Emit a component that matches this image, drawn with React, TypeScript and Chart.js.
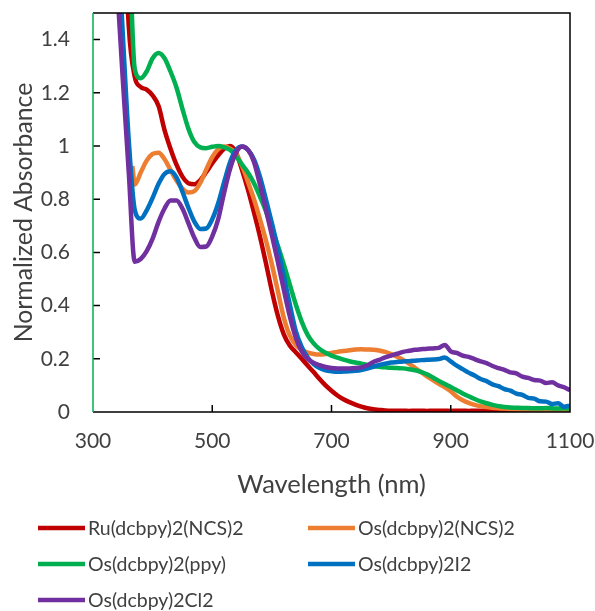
import React, { useEffect, useRef } from "react";
import { Chart, registerables } from "chart.js";

Chart.register(...registerables);

// ---------- data ----------
const wavelengths = [
  340, 350, 360, 370, 380, 390, 400, 410, 420, 430, 440, 450, 460, 470, 480, 490,
  500, 510, 520, 530, 540, 550, 560, 570, 580, 590, 600, 610, 620, 630, 640, 650,
  660, 670, 680, 690, 700, 710, 720, 730, 740, 750, 760, 770, 780, 790, 800, 810,
  820, 830, 840, 850, 860, 870, 880, 890, 900, 910, 920, 930, 940, 950, 960, 970,
  980, 990, 1000, 1010, 1020, 1030, 1040, 1050, 1060, 1070, 1080, 1090, 1100,
];

const seriesLabels = [
  "Ru(dcbpy)2(NCS)2",
  "Os(dcbpy)2(NCS)2",
  "Os(dcbpy)2(ppy)",
  "Os(dcbpy)2I2",
  "Os(dcbpy)2Cl2",
];

const seriesColors = ["#C00000", "#ED7D31", "#00B050", "#0070C0", "#7030A0"];

const ruNcs = [
  3.0, 2.0, 1.45, 1.26, 1.222, 1.212, 1.19, 1.15, 1.06, 0.99, 0.93, 0.885, 0.86, 0.856, 0.872, 0.902,
  0.935, 0.965, 0.99, 1.0, 0.975, 0.91, 0.835, 0.75, 0.66, 0.56, 0.455, 0.362, 0.292, 0.25, 0.225, 0.2,
  0.175, 0.15, 0.124, 0.1, 0.08, 0.062, 0.048, 0.037, 0.028, 0.02, 0.014, 0.01, 0.008, 0.006, 0.005, 0.005,
  0.005, 0.004, 0.005, 0.005, 0.004, 0.005, 0.005, 0.005, 0.004, 0.005, 0.005, 0.004, 0.005, 0.005, 0.004, 0.005,
  0.005, 0.004, 0.005, 0.005, 0.004, 0.005, 0.005, 0.004, 0.005, 0.005, 0.004, 0.005, 0.005,
];

const osNcsOnset = { wavelength: 366, value: 0.925 };
const osNcs = [
  null, null, null, 0.855, 0.9, 0.945, 0.97, 0.975, 0.95, 0.91, 0.87, 0.84, 0.825, 0.83, 0.862, 0.912,
  0.958, 0.988, 0.998, 0.99, 0.97, 0.925, 0.865, 0.8, 0.725, 0.645, 0.555, 0.455, 0.355, 0.288, 0.252, 0.234,
  0.223, 0.218, 0.216, 0.218, 0.222, 0.226, 0.229, 0.232, 0.235, 0.236, 0.235, 0.234, 0.231, 0.226, 0.218, 0.208,
  0.196, 0.182, 0.166, 0.15, 0.134, 0.12, 0.106, 0.093, 0.078, 0.058, 0.044, 0.034, 0.027, 0.022, 0.019, 0.016,
  0.014, 0.013, 0.011, 0.01, 0.009, 0.009, 0.008, 0.008, 0.007, 0.007, 0.006, 0.006, 0.006,
];

const osPpy = [
  3.5, 2.6, 1.85, 1.29, 1.255, 1.28, 1.33, 1.35, 1.33, 1.28, 1.22, 1.14, 1.065, 1.015, 0.995, 0.992,
  0.997, 1.0, 0.995, 0.985, 0.962, 0.93, 0.9, 0.86, 0.81, 0.755, 0.69, 0.625, 0.555, 0.48, 0.405, 0.34,
  0.29, 0.258, 0.237, 0.223, 0.212, 0.204, 0.197, 0.191, 0.186, 0.182, 0.177, 0.173, 0.17, 0.168, 0.166, 0.165,
  0.164, 0.161, 0.157, 0.151, 0.142, 0.13, 0.117, 0.105, 0.094, 0.082, 0.07, 0.059, 0.049, 0.04, 0.033, 0.027,
  0.022, 0.019, 0.017, 0.016, 0.015, 0.015, 0.014, 0.014, 0.015, 0.014, 0.013, 0.014, 0.013,
];

const osI2 = [
  1.85, 1.42, 1.02, 0.76, 0.727, 0.758, 0.805, 0.858, 0.895, 0.905, 0.882, 0.828, 0.768, 0.716, 0.688, 0.69,
  0.725, 0.785, 0.865, 0.94, 0.985, 0.998, 0.985, 0.95, 0.885, 0.8, 0.71, 0.615, 0.51, 0.405, 0.305, 0.245,
  0.205, 0.18, 0.165, 0.157, 0.153, 0.151, 0.152, 0.153, 0.155, 0.158, 0.163, 0.17, 0.177, 0.182, 0.186, 0.188,
  0.19, 0.191, 0.193, 0.195, 0.196, 0.197, 0.199, 0.205, 0.19, 0.174, 0.161, 0.148, 0.137, 0.124, 0.116, 0.104,
  0.097, 0.086, 0.08, 0.069, 0.064, 0.053, 0.05, 0.04, 0.039, 0.03, 0.033, 0.02, 0.024,
];

const osCl2 = [
  1.62, 1.25, 0.9, 0.565, 0.575, 0.605, 0.652, 0.715, 0.765, 0.795, 0.795, 0.765, 0.71, 0.655, 0.62, 0.622,
  0.66, 0.725, 0.825, 0.915, 0.975, 0.998, 0.985, 0.94, 0.855, 0.76, 0.665, 0.565, 0.46, 0.36, 0.28, 0.228,
  0.2, 0.185, 0.176, 0.169, 0.165, 0.164, 0.164, 0.164, 0.165, 0.168, 0.176, 0.188, 0.196, 0.205, 0.212, 0.219,
  0.226, 0.23, 0.234, 0.236, 0.238, 0.239, 0.241, 0.252, 0.228, 0.222, 0.212, 0.207, 0.199, 0.19, 0.184, 0.173,
  0.165, 0.158, 0.149, 0.145, 0.133, 0.128, 0.12, 0.118, 0.109, 0.112, 0.1, 0.093, 0.082,
];

const xTickValues = [300, 500, 700, 900, 1100];
const yTickValues = [0, 0.2, 0.4, 0.6, 0.8, 1, 1.2, 1.4];

// ---------- styling ----------
const FONT = "Lato, 'Open Sans', sans-serif";
const TEXT = "#404040";

function toPoints(values: (number | null)[], onset?: { wavelength: number; value: number }) {
  const pts: { x: number; y: number }[] = [];
  if (onset) pts.push({ x: onset.wavelength, y: onset.value });
  wavelengths.forEach((w, i) => {
    const v = values[i];
    if (v !== null && v !== undefined) pts.push({ x: w, y: v });
  });
  return pts;
}

const frameAndTicks = {
  id: "frameAndTicks",
  afterDatasetsDraw(chart: any) {
    const { ctx, chartArea: a, scales } = chart;
    const x = scales.x;
    const y = scales.y;
    ctx.save();
    ctx.lineWidth = 1.5;
    ctx.lineCap = "butt";
    ctx.strokeStyle = "#000000";
    ctx.beginPath();
    ctx.moveTo(a.left, a.top);
    ctx.lineTo(a.right, a.top);
    ctx.lineTo(a.right, a.bottom);
    ctx.lineTo(a.left, a.bottom);
    ctx.stroke();
    ctx.beginPath();
    x.ticks.forEach((t: any) => {
      const px = x.getPixelForValue(t.value);
      if (px > a.left + 2 && px < a.right - 2) {
        ctx.moveTo(px, a.bottom);
        ctx.lineTo(px, a.bottom - 7);
      }
    });
    y.ticks.forEach((t: any) => {
      const py = y.getPixelForValue(t.value);
      if (py > a.top + 2 && py < a.bottom - 2) {
        ctx.moveTo(a.left, py);
        ctx.lineTo(a.left + 7, py);
      }
    });
    ctx.stroke();
    ctx.strokeStyle = "#00B050";
    ctx.beginPath();
    ctx.moveTo(a.left, a.top);
    ctx.lineTo(a.left, a.bottom);
    ctx.stroke();
    ctx.restore();
  },
};

const gridLegend = {
  id: "gridLegend",
  afterDraw(chart: any) {
    const { ctx } = chart;
    const cols = [38, 308];
    const rows = [528, 564, 600];
    ctx.save();
    ctx.font = `19.5px ${FONT}`;
    ctx.textBaseline = "middle";
    ctx.textAlign = "left";
    chart.data.datasets.forEach((ds: any, i: number) => {
      const cx = cols[i % 2];
      const cy = rows[Math.floor(i / 2)];
      ctx.strokeStyle = ds.borderColor;
      ctx.lineWidth = 4.5;
      ctx.beginPath();
      ctx.moveTo(cx, cy);
      ctx.lineTo(cx + 47, cy);
      ctx.stroke();
      ctx.fillStyle = TEXT;
      ctx.fillText(ds.label, cx + 50, cy + 1);
    });
    ctx.restore();
  },
};

export default function App() {
  const ref = useRef<HTMLCanvasElement | null>(null);

  useEffect(() => {
    if (!ref.current) return;
    const seriesValues = [ruNcs, osNcs, osPpy, osI2, osCl2];
    const datasets = seriesValues.map((vals, i) => ({
      label: seriesLabels[i],
      data: toPoints(vals as (number | null)[], i === 1 ? osNcsOnset : undefined),
      borderColor: seriesColors[i],
      backgroundColor: seriesColors[i],
      borderWidth: 4.5,
      pointRadius: 0,
      pointHoverRadius: 0,
      cubicInterpolationMode: "monotone" as const,
      fill: false,
      clip: 0,
      order: seriesValues.length - 1 - i,
    }));

    const chart = new Chart(ref.current, {
      type: "line",
      data: { datasets },
      plugins: [frameAndTicks, gridLegend],
      options: {
        animation: false,
        responsive: false,
        devicePixelRatio: 1,
        layout: { padding: { left: 0, top: 13, right: 25, bottom: 109 } },
        plugins: {
          legend: { display: false },
          tooltip: { enabled: false },
          title: { display: false },
        },
        scales: {
          x: {
            type: "linear",
            min: 300,
            max: 1100,
            afterBuildTicks: (s: any) => {
              s.ticks = xTickValues.map((v) => ({ value: v }));
            },
            afterFit: (s: any) => {
              s.height = 90;
              s.paddingLeft = 0;
              s.paddingRight = 0;
            },
            grid: { display: false, drawTicks: false },
            border: { display: false },
            ticks: {
              autoSkip: false,
              maxRotation: 0,
              padding: 17,
              color: TEXT,
              font: { family: FONT, size: 21 },
              callback: (v: any) => String(v),
            },
            title: {
              display: true,
              text: "Wavelength (nm)",
              color: TEXT,
              font: { family: FONT, size: 25.5 },
              padding: { top: 0, bottom: 2 },
            },
          },
          y: {
            type: "linear",
            min: 0,
            max: 1.5,
            afterBuildTicks: (s: any) => {
              s.ticks = yTickValues.map((v) => ({ value: v }));
            },
            afterFit: (s: any) => {
              s.width = 93;
              s.paddingTop = 0;
              s.paddingBottom = 0;
            },
            grid: { display: false, drawTicks: false },
            border: { display: false },
            ticks: {
              padding: 23,
              color: TEXT,
              font: { family: FONT, size: 21 },
              callback: (v: any) => String(Math.round(Number(v) * 10) / 10),
            },
            title: {
              display: true,
              text: "Normalized Absorbance",
              color: TEXT,
              font: { family: FONT, size: 24.8 },
              padding: { top: 9, bottom: 0 },
            },
          },
        },
      },
    });
    return () => chart.destroy();
  }, []);

  return (
    <div
      style={{
        position: "absolute",
        left: 0,
        top: 0,
        width: 595,
        height: 611,
        background: "#ffffff",
      }}
    >
      <canvas ref={ref} width={595} height={611} style={{ display: "block", width: 595, height: 611 }} />
    </div>
  );
}
